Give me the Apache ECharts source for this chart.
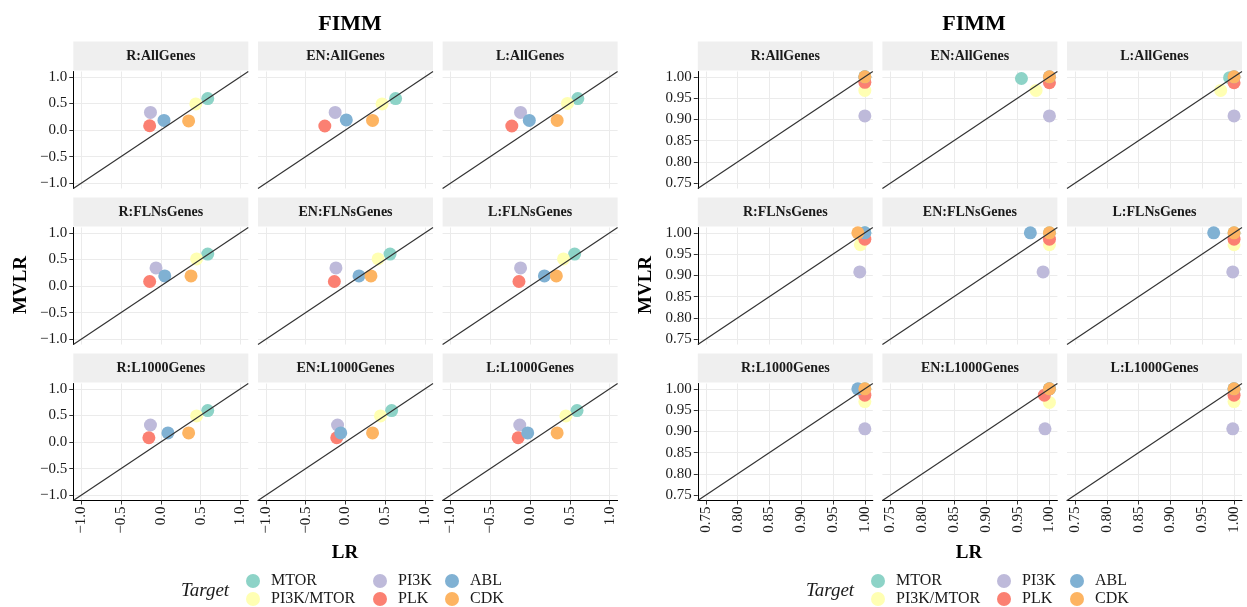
<!DOCTYPE html>
<html>
<head>
<meta charset="utf-8">
<script src="https://cdn.jsdelivr.net/npm/echarts@6/dist/echarts.min.js"></script>
<style>
  html,body{margin:0;padding:0;background:#fff;}
  #main{width:1247px;height:607px;}
</style>
</head>
<body>
<div id="main"></div>
<script>
// targets in drawing order (last one on top)
const targets = ['MTOR', 'PI3K/MTOR', 'PI3K', 'PLK', 'ABL', 'CDK'];
const colors = ['#8dd3c7', '#ffffb3', '#bebada', '#fb8072', '#80b1d3', '#fdb462'];
const facetNames = ['R:AllGenes', 'EN:AllGenes', 'L:AllGenes',
  'R:FLNsGenes', 'EN:FLNsGenes', 'L:FLNsGenes',
  'R:L1000Genes', 'EN:L1000Genes', 'L:L1000Genes'];

// left panel, one row per facet, values in target order
const leftLR = [
  [0.59, 0.44, -0.13, -0.14, 0.04, 0.35],
  [0.63, 0.46, -0.13, -0.26, 0.01, 0.34],
  [0.60, 0.47, -0.12, -0.23, -0.01, 0.34],
  [0.59, 0.45, -0.06, -0.14, 0.05, 0.38],
  [0.56, 0.41, -0.12, -0.14, 0.17, 0.32],
  [0.56, 0.42, -0.12, -0.14, 0.18, 0.33],
  [0.59, 0.45, -0.13, -0.15, 0.09, 0.35],
  [0.58, 0.44, -0.10, -0.11, -0.06, 0.34],
  [0.59, 0.45, -0.13, -0.15, -0.03, 0.34]
];
const leftMVLR = [
  [0.59, 0.49, 0.33, 0.08, 0.18, 0.17],
  [0.59, 0.49, 0.33, 0.075, 0.19, 0.18],
  [0.59, 0.50, 0.33, 0.075, 0.18, 0.18],
  [0.60, 0.51, 0.34, 0.085, 0.19, 0.19],
  [0.60, 0.51, 0.34, 0.085, 0.19, 0.19],
  [0.60, 0.51, 0.34, 0.085, 0.19, 0.19],
  [0.59, 0.49, 0.32, 0.08, 0.17, 0.17],
  [0.59, 0.49, 0.32, 0.08, 0.17, 0.17],
  [0.59, 0.49, 0.32, 0.08, 0.17, 0.17]
];
// right panel
const rightLR = [
  [1.0, 1.0, 1.0, 1.0, 1.0, 1.0],
  [0.956, 0.979, 1.0, 1.0, 1.0, 1.0],
  [0.993, 0.979, 1.0, 1.0, 1.0, 1.0],
  [1.0, 0.993, 0.992, 1.0, 1.0, 0.989],
  [1.0, 1.0, 0.99, 1.0, 0.97, 1.0],
  [1.0, 1.0, 0.998, 1.0, 0.968, 1.0],
  [1.0, 1.0, 1.0, 1.0, 0.989, 1.0],
  [1.0, 1.0, 0.993, 0.992, 1.0, 1.0],
  [1.0, 1.0, 0.998, 1.0, 1.0, 1.0]
];
const rightMVLR = [
  [1.0, 0.968, 0.908, 0.987, 1.0, 1.0],
  [0.996, 0.968, 0.908, 0.986, 1.0, 1.0],
  [0.998, 0.968, 0.908, 0.986, 1.0, 1.0],
  [1.0, 0.972, 0.908, 0.985, 1.0, 1.0],
  [1.0, 0.972, 0.908, 0.985, 1.0, 1.0],
  [1.0, 0.972, 0.908, 0.985, 1.0, 1.0],
  [1.0, 0.97, 0.906, 0.985, 1.0, 1.0],
  [1.0, 0.968, 0.906, 0.985, 1.0, 1.0],
  [1.0, 0.97, 0.906, 0.985, 1.0, 1.0]
];
const leftTicks = [-1.0, -0.5, 0.0, 0.5, 1.0];
const rightTicks = [0.75, 0.80, 0.85, 0.90, 0.95, 1.00];

const FONT = 'Liberation Serif';
const sides = [
  {lr: leftLR, mv: leftMVLR, ticks: leftTicks, min: -1.1, max: 1.1, dec: 1, cols: [73.3, 258, 442.6], center: 345},
  {lr: rightLR, mv: rightMVLR, ticks: rightTicks, min: 0.7375, max: 1.0125, dec: 2, cols: [697.8, 882.4, 1067], center: 969}
];
const rows = [71.5, 227.5, 383.5];
const W = 175, H = 117;

const fmt = (dec) => (v) => (v < 0 ? '\u2212' : '') + Math.abs(v).toFixed(dec);

const grids = [], xAxes = [], yAxes = [], series = [], graphics = [], titles = [], legends = [];

sides.forEach((s, si) => {
  facetNames.forEach((name, i) => {
    const r = Math.floor(i / 3), c = i % 3;
    const g = si * 9 + i;
    const left = s.cols[c], top = rows[r];
    grids.push({left: left, top: top, width: W, height: H});
    xAxes.push({
      type: 'value', gridIndex: g, min: s.min, max: s.max,
      axisLine: {show: r === 2, onZero: false, lineStyle: {color: '#000', width: 1}},
      axisTick: {show: r === 2, length: 4, customValues: s.ticks, lineStyle: {color: '#333'}},
      axisLabel: {show: r === 2, rotate: 90, margin: 6, customValues: s.ticks, formatter: fmt(s.dec),
        color: '#1a1a1a', fontSize: 15, fontFamily: FONT},
      splitLine: {show: true, lineStyle: {color: '#ebebeb', width: 1}}
    });
    yAxes.push({
      type: 'value', gridIndex: g, min: s.min, max: s.max,
      axisLine: {show: c === 0, onZero: false, lineStyle: {color: '#000', width: 1}},
      axisTick: {show: c === 0, length: 4, customValues: s.ticks, lineStyle: {color: '#333'}},
      axisLabel: {show: c === 0, margin: 6, customValues: s.ticks, formatter: fmt(s.dec),
        color: '#1a1a1a', fontSize: 15, fontFamily: FONT},
      splitLine: {show: true, lineStyle: {color: '#ebebeb', width: 1}}
    });
    // facet strip
    graphics.push({
      type: 'rect', left: left, top: top - 30, silent: true,
      shape: {width: W, height: 29}, style: {fill: '#efefef'}
    });
    graphics.push({
      type: 'text', x: left + W / 2, y: top - 15.5, silent: true,
      style: {text: name, fill: '#1a1a1a', font: 'bold 14px ' + FONT, textAlign: 'center', textVerticalAlign: 'middle'}
    });
    targets.forEach((t, ti) => {
      series.push({
        type: 'scatter', name: t, xAxisIndex: g, yAxisIndex: g,
        symbolSize: 13, itemStyle: {color: colors[ti], opacity: 1},
        data: [[s.lr[i][ti], s.mv[i][ti]]], z: 2
      });
    });
    // identity line y = x
    series.push({
      type: 'line', xAxisIndex: g, yAxisIndex: g, silent: true, showSymbol: false,
      data: [[s.min, s.min], [s.max, s.max]],
      lineStyle: {color: '#333', width: 1.2}, z: 3
    });
  });

  titles.push({text: 'FIMM', left: s.center, top: 8, textAlign: 'center',
    textStyle: {fontFamily: FONT, fontWeight: 'bold', fontSize: 22, color: '#000'}});
  graphics.push({
    type: 'text', x: s.center, y: 553, silent: true,
    style: {text: 'LR', fill: '#000', font: 'bold 19px ' + FONT, textAlign: 'center', textVerticalAlign: 'middle'}
  });
  graphics.push({
    type: 'text', x: si === 0 ? 21 : 646, y: 285, rotation: Math.PI / 2, silent: true,
    style: {text: 'MVLR', fill: '#000', font: 'bold 19px ' + FONT, textAlign: 'center', textVerticalAlign: 'middle'}
  });
  graphics.push({
    type: 'text', x: si === 0 ? 205 : 830, y: 591, silent: true,
    style: {text: 'Target', fill: '#1a1a1a', font: 'italic 19px ' + FONT, textAlign: 'center', textVerticalAlign: 'middle'}
  });
  // legend laid out column-major: 3 columns x 2 rows, one component per key
  const legendCols = si === 0 ? [246, 373, 445] : [871, 997, 1070];
  const legendRows = [573, 591];
  targets.forEach((t, k) => {
    legends.push({
      data: [t], left: legendCols[Math.floor(k / 2)], top: legendRows[k % 2], padding: 0,
      itemWidth: 14, itemHeight: 14, icon: 'circle', selectedMode: false,
      textStyle: {fontFamily: FONT, fontSize: 16, color: '#1a1a1a', padding: [0, 0, 0, 6]}
    });
  });
});

const chart = echarts.init(document.getElementById('main'));
chart.setOption({
  animation: false,
  textStyle: {fontFamily: FONT},
  title: titles,
  legend: legends,
  grid: grids,
  xAxis: xAxes,
  yAxis: yAxes,
  series: series,
  graphic: graphics
});
</script>
</body>
</html>
